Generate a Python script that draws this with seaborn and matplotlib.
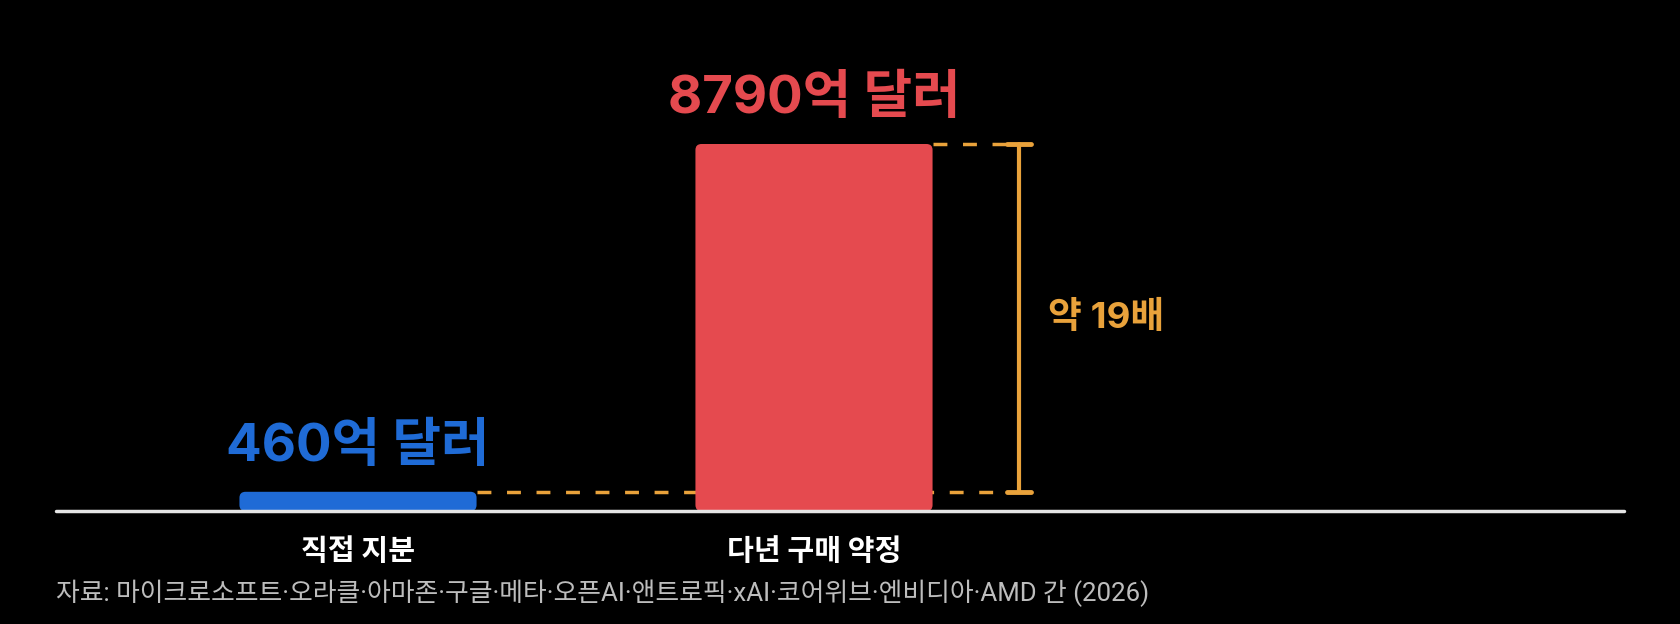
import numpy as np
import pandas as pd
import matplotlib
matplotlib.use('Agg')
import matplotlib.pyplot as plt
import seaborn as sns
from matplotlib.patches import FancyBboxPatch

sns.set_theme(style='white')
plt.rcParams['font.family'] = ['Noto Sans CJK KR', 'DejaVu Sans']

# data
categories = ['직접 지분', '다년 구매 약정']
values = [46, 879]                      # 억 달러 단위 (x10)
value_labels = ['460억 달러', '8790억 달러']
bar_colors = ['#1F6BD6', '#E54A4F']
ratio_label = '약 19배'
source = '자료: 마이크로소프트·오라클·아마존·구글·메타·오픈AI·앤트로픽·xAI·코어위브·엔비디아·AMD 간 (2026)'

df = pd.DataFrame({'cat': categories, 'val': values})

bg = '#000000'
orange = '#E9A23B'
mixed = ['Inter', 'Noto Sans CJK KR']

fig = plt.figure(figsize=(16.8, 6.24), dpi=100, facecolor=bg)
ax = fig.add_axes([0, 0, 1, 1])
ax.set_facecolor(bg)

sns.barplot(data=df, x='cat', y='val', hue='cat', palette=bar_colors,
            width=0.52, legend=False, ax=ax, saturation=1)

# pixel-matched limits
px_x = 456.0          # px per category step
px_y = 367.0 / 879    # px per value unit
ax.set_xlim(-358 / px_x, (1680 - 358) / px_x)
ax.set_ylim(-113 / px_y, (624 - 113) / px_y)
ax.axis('off')

# rounded bars
aspect = (1 / px_y) / (1 / px_x)
for p, c in zip(list(ax.patches), bar_colors):
    x0, w, h = p.get_x(), p.get_width(), p.get_height()
    p.remove()
    ax.add_patch(FancyBboxPatch((x0, 0), w, h,
                                boxstyle='round,pad=0,rounding_size=%f' % (6 / px_x),
                                mutation_aspect=aspect, fc=c, ec='none', zorder=2))

# baseline
ax.axhline(0, xmin=56 / 1680, xmax=1624 / 1680, color='#E6E6E6', lw=2.5, zorder=3)

# value labels
for i, (v, lab, c) in enumerate(zip(values, value_labels, bar_colors)):
    ax.text(i, v + 106, lab, ha='center', va='center', color=c,
            fontsize=38, fontweight='bold', family=mixed)
    ax.text(i, -96, categories[i], ha='center', va='center', color='white',
            fontsize=21, fontweight='bold')

# bracket
bx = (1019 - 358) / px_x
cap = 12 / px_x
half = 0.26
ax.plot([1 + half, bx - cap], [values[1]] * 2, color=orange, lw=2.5,
        ls=(0, (4, 4.5)), zorder=1)
ax.plot([0 + half, bx - cap], [values[0]] * 2, color=orange, lw=2.5,
        ls=(0, (4, 4.5)), zorder=1)
ax.plot([bx, bx], [values[0], values[1]], color=orange, lw=3)
for v in values:
    ax.plot([bx - cap, bx + cap], [v, v], color=orange, lw=3.5)
ax.text((1048 - 358) / px_x, (values[0] + values[1]) / 2, ratio_label,
        ha='left', va='center', color=orange, fontsize=26.5, fontweight='bold',
        family=mixed)

fig.text(56 / 1680, 31 / 624, source, ha='left', va='center',
         color='#BDBDBD', fontsize=18.6, family=['Roboto', 'Noto Sans CJK KR'])

fig.savefig('out.png', dpi=100, facecolor=bg)
